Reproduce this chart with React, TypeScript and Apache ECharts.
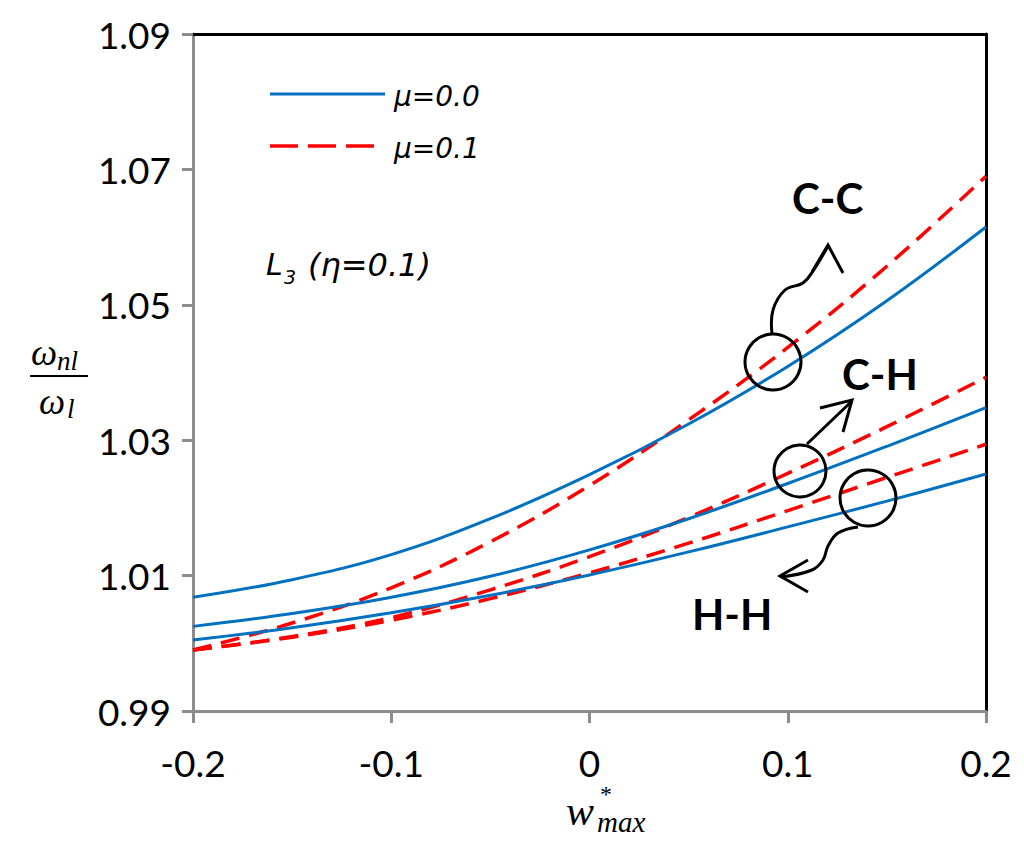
import React, { useEffect, useRef } from 'react';
import * as echarts from 'echarts';

// w*max values along the x axis
const xVals = [-0.2, -0.15, -0.1, -0.05, 0, 0.05, 0.1, 0.15, 0.2];

// omega_nl / omega_l
const ccMu0 = [1.0068, 1.0094, 1.0131, 1.0184, 1.0249, 1.0324, 1.0409, 1.0506, 1.0615];
const ccMu1 = [0.999, 1.003, 1.0082, 1.015, 1.0233, 1.033, 1.0437, 1.0557, 1.069];
const chMu0 = [1.0025, 1.0044, 1.0068, 1.0099, 1.0138, 1.0184, 1.0236, 1.0291, 1.0348];
const chMu1 = [0.999, 1.001, 1.0038, 1.0079, 1.0128, 1.0186, 1.0251, 1.032, 1.0393];
const hhMu0 = [1.0005, 1.0023, 1.0045, 1.0071, 1.0101, 1.0135, 1.0172, 1.021, 1.025];
const hhMu1 = [0.999, 1.0009, 1.0034, 1.0066, 1.0104, 1.0148, 1.0196, 1.0245, 1.0294];

const xTicks = [-0.2, -0.1, 0, 0.1, 0.2];
const yTicks = [0.99, 1.01, 1.03, 1.05, 1.07, 1.09];

const BLUE = '#0070C0';
const RED = '#FF0000';
const AXIS_GRAY = '#8c8c8c';

const pairs = (ys: number[]) => xVals.map((x, i) => [x, ys[i]]);

const Chart: React.FC = () => {
  const chartRef = useRef<HTMLDivElement>(null);

  useEffect(() => {
    if (!chartRef.current) return undefined;
    const chart = echarts.init(chartRef.current, null, { renderer: 'svg' });

    const solid = { color: BLUE, width: 3, type: 'solid' };
    const dashed = { color: RED, width: 3.5, type: [19, 10] };
    const lineSeries = (name: string, ys: number[], style: any) => ({
      name,
      type: 'line',
      data: pairs(ys),
      smooth: 0.4,
      showSymbol: false,
      symbol: 'none',
      lineStyle: style,
      itemStyle: { color: style.color },
    });

    const txt = (text: string, x: number, y: number, extra: any = {}) => ({
      type: 'text',
      x,
      y,
      z: 100,
      style: {
        text,
        fill: '#000',
        fontFamily: 'Lato',
        fontSize: 28,
        align: 'left',
        verticalAlign: 'middle',
        ...extra,
      },
    });
    const oblique = { fontFamily: 'DejaVu Sans', fontStyle: 'oblique' };
    const serifIt = { fontFamily: 'Liberation Serif', fontStyle: 'italic' };
    const stroke = { stroke: '#000', lineWidth: 3, fill: 'none' };

    const options: any = {
      animation: false,
      backgroundColor: '#fff',
      grid: { left: 193, right: 38, top: 34, bottom: 149 },
      xAxis: [
        {
          type: 'value',
          min: -0.2,
          max: 0.2,
          interval: 0.1,
          position: 'bottom',
          axisLine: { onZero: false, lineStyle: { color: AXIS_GRAY, width: 3 } },
          axisTick: { show: true, length: 12, customValues: xTicks, lineStyle: { color: AXIS_GRAY, width: 3 } },
          axisLabel: {
            customValues: xTicks,
            color: '#000',
            fontFamily: 'Lato',
            fontSize: 37,
            margin: 33,
            formatter: (v: number) => (v === 0 ? '0' : String(Number(v.toFixed(1)))),
          },
          splitLine: { show: false },
        },
        {
          type: 'value',
          min: -0.2,
          max: 0.2,
          position: 'top',
          axisLine: { show: true, onZero: false, lineStyle: { color: '#000', width: 3 } },
          axisTick: { show: false },
          axisLabel: { show: false },
          splitLine: { show: false },
        },
      ],
      yAxis: [
        {
          type: 'value',
          min: 0.99,
          max: 1.09,
          position: 'left',
          axisLine: { show: true, onZero: false, lineStyle: { color: AXIS_GRAY, width: 3 } },
          axisTick: { show: true, length: 11, customValues: yTicks, lineStyle: { color: AXIS_GRAY, width: 3 } },
          axisLabel: {
            customValues: yTicks,
            color: '#000',
            fontFamily: 'Lato',
            fontSize: 37,
            margin: 22,
            formatter: (v: number) => v.toFixed(2),
          },
          splitLine: { show: false },
        },
        {
          type: 'value',
          min: 0.99,
          max: 1.09,
          position: 'right',
          axisLine: { show: true, onZero: false, lineStyle: { color: '#000', width: 3 } },
          axisTick: { show: false },
          axisLabel: { show: false },
          splitLine: { show: false },
        },
      ],
      series: [
        lineSeries('C-C μ=0.1', ccMu1, dashed),
        lineSeries('C-H μ=0.1', chMu1, dashed),
        lineSeries('H-H μ=0.1', hhMu1, dashed),
        lineSeries('C-C μ=0.0', ccMu0, solid),
        lineSeries('C-H μ=0.0', chMu0, solid),
        lineSeries('H-H μ=0.0', hhMu0, solid),
      ],
      graphic: [
        // legend
        { type: 'line', shape: { x1: 270, y1: 94, x2: 385, y2: 94 }, style: { stroke: BLUE, lineWidth: 3 } },
        txt('μ=0.0', 394, 96, { ...oblique, fontSize: 28 }),
        { type: 'line', shape: { x1: 270, y1: 146, x2: 380, y2: 146 }, style: { stroke: RED, lineWidth: 3.5, lineDash: [28, 10] } },
        txt('μ=0.1', 394, 148, { ...oblique, fontSize: 28 }),
        // L3 (eta=0.1)
        txt('L', 266, 264, { ...oblique, fontSize: 30 }),
        txt('3', 284, 277, { ...oblique, fontSize: 19 }),
        txt('(η=0.1)', 308, 265, { ...oblique, fontSize: 32 }),
        // case labels
        txt('C-C', 792, 198, { fontWeight: 'bold', fontSize: 42 }),
        txt('C-H', 842, 374, { fontWeight: 'bold', fontSize: 42 }),
        txt('H-H', 692, 614, { fontWeight: 'bold', fontSize: 42 }),
        // circles
        { type: 'circle', z: 100, shape: { cx: 773, cy: 362, r: 28 }, style: stroke },
        { type: 'circle', z: 100, shape: { cx: 800, cy: 471, r: 26 }, style: stroke },
        { type: 'circle', z: 100, shape: { cx: 868, cy: 498, r: 28 }, style: stroke },
        // C-C wavy arrow
        {
          type: 'polyline', z: 100,
          shape: { points: [[772, 334], [773, 310], [785, 290], [803, 283], [813, 271], [828, 246]], smooth: 0.4 },
          style: stroke,
        },
        { type: 'polyline', z: 100, shape: { points: [[812, 272], [828, 245], [843, 273]] }, style: stroke },
        // C-H arrow
        { type: 'line', z: 100, shape: { x1: 807, y1: 444, x2: 852, y2: 401 }, style: stroke },
        { type: 'polyline', z: 100, shape: { points: [[820, 408], [852, 400], [843, 432]] }, style: stroke },
        // H-H wavy arrow
        {
          type: 'polyline', z: 100,
          shape: { points: [[858, 527], [838, 533], [828, 546], [823, 560], [812, 570], [781, 577]], smooth: 0.4 },
          style: stroke,
        },
        { type: 'polyline', z: 100, shape: { points: [[808, 560], [780, 576], [808, 592]] }, style: stroke },
        // y axis name: omega_nl / omega_l
        txt('ω', 31, 352, { ...serifIt, fontSize: 37 }),
        txt('nl', 57, 361, { ...serifIt, fontSize: 27 }),
        { type: 'line', z: 100, shape: { x1: 30, y1: 376, x2: 88, y2: 376 }, style: { stroke: '#000', lineWidth: 2 } },
        txt('ω', 39, 401, { ...serifIt, fontSize: 37 }),
        txt('l', 67, 409, { ...serifIt, fontSize: 27 }),
        // x axis name: w*_max
        txt('w', 566, 811, { ...serifIt, fontSize: 42 }),
        txt('*', 600, 794, { fontFamily: 'Liberation Serif', fontSize: 24 }),
        txt('max', 597, 822, { ...serifIt, fontSize: 29 }),
      ],
    };

    chart.setOption(options);
    return () => chart.dispose();
  }, []);

  return <div ref={chartRef} style={{ position: 'absolute', left: 0, top: 0, width: 1024, height: 860 }} />;
};

export default function App() {
  return <Chart />;
}
